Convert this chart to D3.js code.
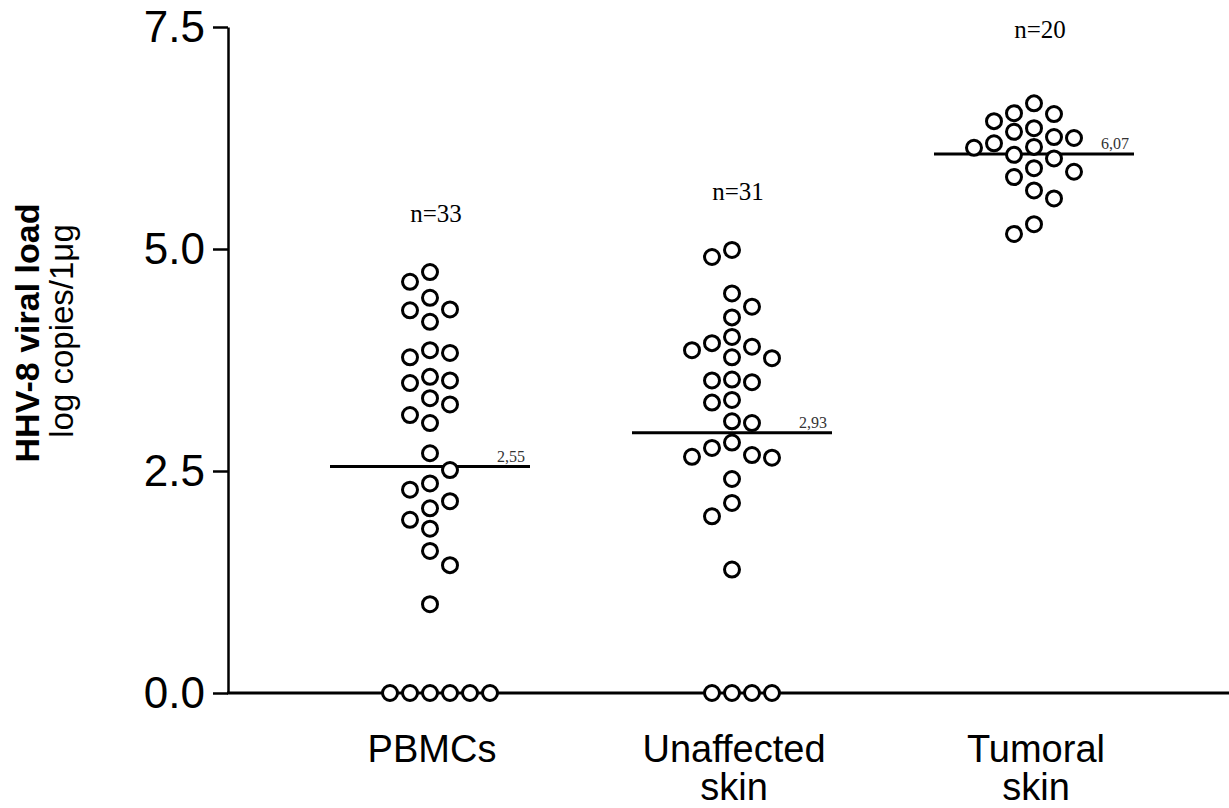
<!DOCTYPE html>
<html>
<head>
<meta charset="utf-8">
<script src="https://cdn.jsdelivr.net/npm/d3@7"></script>
<style>
  html, body { margin: 0; padding: 0; background: #fff; }
  svg { display: block; }
</style>
</head>
<body>
<svg id="chart" width="1229" height="808"></svg>
<script>
// ---- data ----
const categories = ["PBMCs", "Unaffected skin", "Tumoral skin"];
const pbmcValues = [4.74, 4.63, 4.31, 4.45, 4.32, 4.18, 3.86, 3.78, 3.83, 3.52, 3.49, 3.56,
  3.32, 3.25, 3.13, 3.04, 2.70, 2.51, 2.36, 2.29, 2.16, 2.08, 1.95, 1.85, 1.60, 1.44, 1.00,
  0, 0, 0, 0, 0, 0];
const unaffectedValues = [4.99, 4.91, 4.50, 4.35, 4.23, 4.01, 3.94, 3.90, 3.86, 3.78, 3.77,
  3.52, 3.50, 3.53, 3.27, 3.30, 3.06, 3.04, 2.82, 2.68, 2.65, 2.66, 2.76, 2.41, 2.14, 1.99, 1.39,
  0, 0, 0, 0];
const tumoralValues = [6.25, 6.53, 6.44, 6.64, 6.52, 6.19, 6.14, 6.32, 6.36, 6.26, 6.06, 6.15,
  6.02, 5.91, 5.81, 5.87, 5.66, 5.57, 5.17, 5.28];
const medians = [2.55, 2.93, 6.07];
const medianLabels = ["2,55", "2,93", "6,07"];
const nLabels = ["n=33", "n=31", "n=20"];
const yTicks = [0, 2.5, 5.0, 7.5];
const seriesValues = [pbmcValues, unaffectedValues, tumoralValues];

// ---- layout ----
(function () {
const svg = d3.select("#chart");
const axisX = 228, plotTop = 27, plotBottom = 693;
const y = d3.scaleLinear().domain([0, 7.5]).range([plotBottom, plotTop]);
const x = d3.scalePoint().domain(categories).range([430, 1034]);
const slotStep = 20, minGap = 18, r = 7.5;

// simple beeswarm: nearest free column, balancing the two sides;
// identical values are laid out as one centred row
function swarm(values) {
  const sorted = values.slice().sort((a, b) => b - a);
  const last = {}, count = {};
  const out = [];
  const free = (s, py) => last[s] === undefined || Math.abs(py - last[s]) >= minGap;
  const place = (v, slot) => {
    last[slot] = y(v);
    count[slot] = (count[slot] || 0) + 1;
    out.push({ v, slot });
  };
  d3.groups(sorted, v => v).forEach(([v, grp]) => {
    const py = y(v);
    const n = grp.length;
    if (n > 1) {
      const row = d3.range(n).map(k => k - Math.floor((n - 1) / 2));
      if (row.every(s => free(s, py))) { row.forEach(s => place(v, s)); return; }
    }
    grp.forEach(() => {
      let slot = null;
      for (let k = 0; k < 10 && slot === null; k++) {
        if (k === 0) { if (free(0, py)) slot = 0; continue; }
        const pf = free(k, py), nf = free(-k, py);
        if (pf && nf) slot = ((count[-k] || 0) <= (count[k] || 0)) ? -k : k;
        else if (pf) slot = k;
        else if (nf) slot = -k;
      }
      place(v, slot);
    });
  });
  return out;
}

// y axis
const yAxis = d3.axisLeft(y).tickValues(yTicks).tickFormat(d3.format(".1f"))
  .tickSizeInner(15).tickSizeOuter(0).tickPadding(8);
const gy = svg.append("g").attr("transform", `translate(${axisX},0)`).call(yAxis);
gy.select(".domain").attr("stroke", "#000").attr("stroke-width", 2.5);
gy.selectAll(".tick line").attr("stroke", "#000").attr("stroke-width", 2.5);
gy.selectAll(".tick text").attr("font-family", "'Liberation Sans', Arial, sans-serif")
  .attr("font-size", 44).attr("fill", "#000");

// x axis line
svg.append("line").attr("x1", axisX - 1).attr("x2", 1229).attr("y1", y(0)).attr("y2", y(0))
  .attr("stroke", "#000").attr("stroke-width", 3);

// category labels
categories.forEach(c => {
  const words = c.split(" ");
  const t = svg.append("text").attr("x", x(c) + 2).attr("y", 762)
    .attr("text-anchor", "middle")
    .attr("font-family", "'Liberation Sans', Arial, sans-serif")
    .attr("font-size", 38).attr("fill", "#000");
  words.forEach((w, i) => {
    t.append("tspan").attr("x", x(c) + 2).attr("dy", i === 0 ? 0 : 38).text(w);
  });
});

// y axis title
svg.append("text").attr("transform", "translate(39,333) rotate(-90)")
  .attr("text-anchor", "middle").attr("font-family", "'Liberation Sans', Arial, sans-serif")
  .attr("font-weight", "bold").attr("font-size", 34).attr("fill", "#000")
  .text("HHV-8 viral load");
svg.append("text").attr("transform", "translate(73,331) rotate(-90)")
  .attr("text-anchor", "middle").attr("font-family", "'Liberation Sans', Arial, sans-serif")
  .attr("font-size", 33).attr("fill", "#000")
  .text("log copies/1μg");

// groups
categories.forEach((c, i) => {
  const cx = x(c);
  const g = svg.append("g");
  g.append("line").attr("x1", cx - 100).attr("x2", cx + 100)
    .attr("y1", y(medians[i])).attr("y2", y(medians[i]))
    .attr("stroke", "#000").attr("stroke-width", 3);
  g.append("text").attr("x", cx + 95).attr("y", y(medians[i]) - 5)
    .attr("text-anchor", "end").attr("font-family", "'Liberation Serif', 'Times New Roman', serif")
    .attr("font-size", 16).attr("fill", "#333").text(medianLabels[i]);
  const pts = swarm(seriesValues[i]);
  g.selectAll("circle").data(pts).join("circle")
    .attr("cx", d => cx + d.slot * slotStep)
    .attr("cy", d => y(d.v))
    .attr("r", r)
    .attr("fill", "#fff").attr("stroke", "#000").attr("stroke-width", 3);
  const maxV = d3.max(seriesValues[i]);
  g.append("text").attr("x", cx + 6).attr("y", Math.max(38, y(maxV) - 50 - (y(maxV) < 150 ? 15 : 0)))
    .attr("text-anchor", "middle").attr("font-family", "'Liberation Serif', 'Times New Roman', serif")
    .attr("font-size", 25).attr("fill", "#000").text(nLabels[i]);
});
})();
</script>
</body>
</html>
